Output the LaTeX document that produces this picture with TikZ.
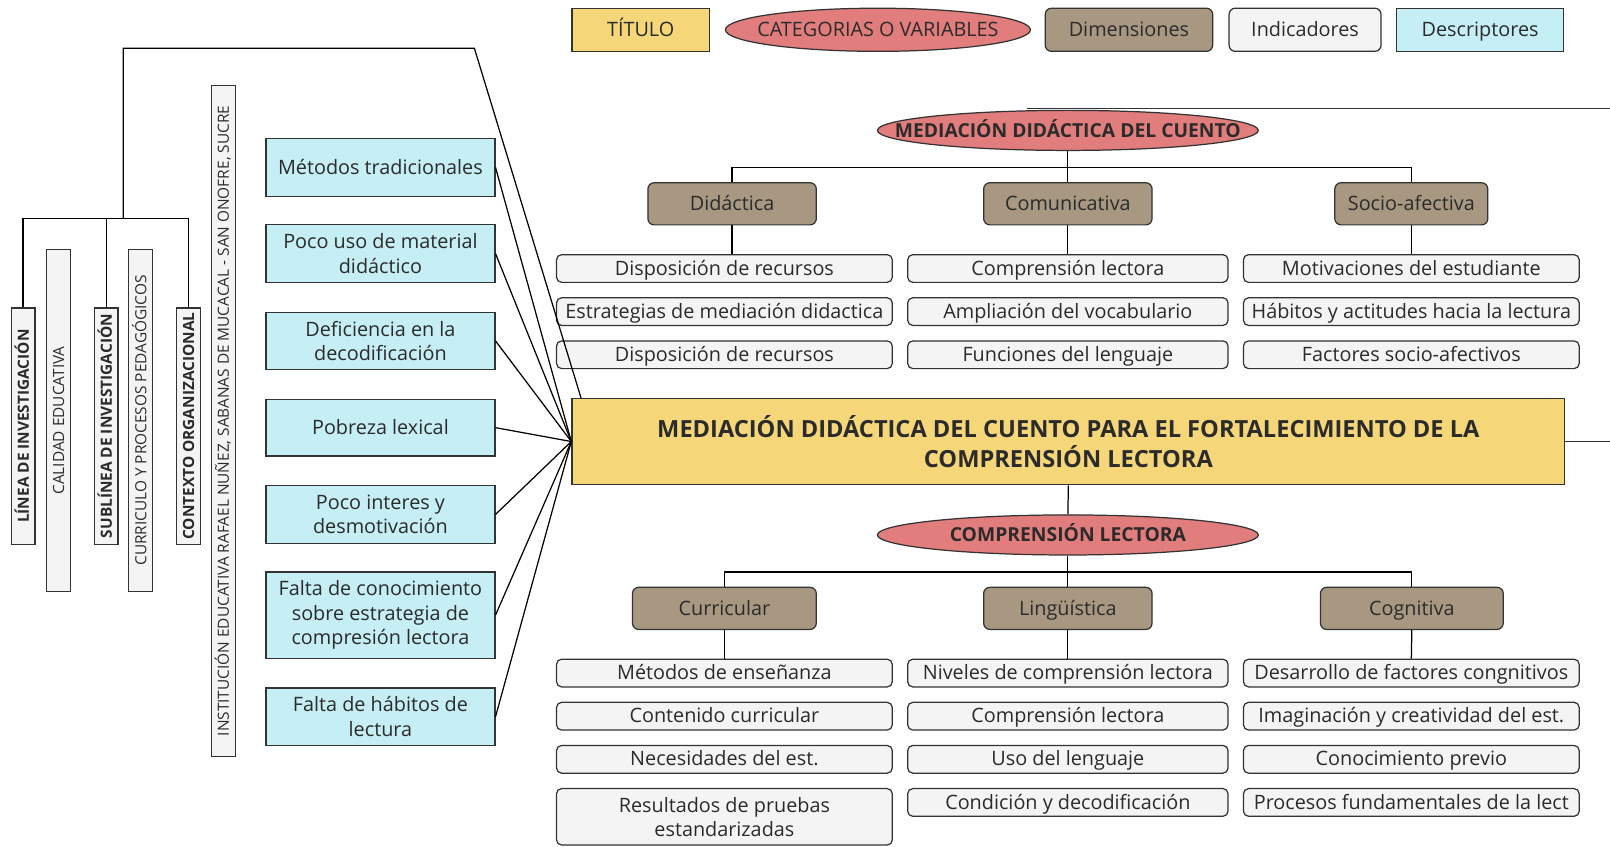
\documentclass[tikz,border=0pt]{standalone}
\usepackage{fontspec}
\setmainfont{Open Sans}
\usetikzlibrary{shapes.geometric,calc}
\definecolor{cyel}{HTML}{F5D679}
\definecolor{csal}{HTML}{E27D7D}
\definecolor{ctau}{HTML}{A89882}
\definecolor{cgry}{HTML}{F4F4F4}
\definecolor{ccya}{HTML}{C5EEF5}
\definecolor{cbrd}{HTML}{333333}
\definecolor{ctxt}{HTML}{2B2B2B}
\tikzset{
  every node/.style={text=ctxt},
  base/.style={draw=cbrd, line width=1.2pt, inner sep=0pt, align=center},
  oneline/.style={text height=14.5pt, text depth=1.5pt},
  legbox/.style={base, oneline, minimum height=42pt, font=\fontsize{19.3}{23}\selectfont},
  titlebox/.style={base, fill=cyel},
  catell/.style={base, ellipse, fill=csal},
  dimbox/.style={base, oneline, fill=ctau, rounded corners=6pt, minimum height=41pt, font=\fontsize{19.3}{23}\selectfont},
  indbox/.style={base, fill=cgry, rounded corners=5pt, minimum height=27pt, font=\fontsize{19.3}{23}\selectfont},
  ind1/.style={indbox, oneline},
  descbox/.style={base, fill=ccya, minimum width=223pt, font=\fontsize{19.3}{24}\selectfont},
  vbox/.style={base, fill=cgry, rotate=90, minimum height=23pt, text height=11pt, text depth=0pt, font=\fontsize{15}{18}\selectfont},
  conn/.style={draw=black, line width=1.2pt},
}
\begin{document}
\begin{tikzpicture}[x=1pt,y=-1pt]
\useasboundingbox[fill=white] (0,0) rectangle (1568,824);

% ---------- Legend ----------
\node[legbox, fill=cyel, minimum width=134pt] (lgT) at (624,29) {TÍTULO};
\node[legbox, catell, minimum width=297pt, minimum height=42pt] (lgC) at (855,29) {\makebox[0pt]{CATEGORIAS O VARIABLES}};
\node[legbox, fill=ctau, rounded corners=6pt, minimum width=163pt] (lgD) at (1099.5,29) {Dimensiones};
\node[legbox, fill=cgry, rounded corners=6pt, minimum width=148pt] (lgI) at (1271,29) {Indicadores};
\node[legbox, fill=ccya, minimum width=163pt] (lgS) at (1441.5,29) {Descriptores};

% ---------- Title ----------
\node[titlebox, minimum width=967pt, minimum height=84pt, font=\bfseries\fontsize{23}{30}\selectfont] (title) at (1040.5,430)
  {MEDIACIÓN DIDÁCTICA DEL CUENTO PARA EL FORTALECIMIENTO DE LA\\COMPRENSIÓN LECTORA};

% ---------- Category 1 ----------
\node[catell, oneline, minimum width=371pt, minimum height=39pt, font=\bfseries\fontsize{18.8}{22}\selectfont] (cat1) at (1040,127) {\makebox[0pt]{MEDIACIÓN DIDÁCTICA DEL CUENTO}};
\node[dimbox, minimum width=164pt] (d11) at (713,198.5) {Didáctica};
\node[dimbox, minimum width=164pt] (d12) at (1040,198.5) {Comunicativa};
\node[dimbox, minimum width=149pt] (d13) at (1374.5,198.5) {Socio-afectiva};

\node[ind1, minimum width=327pt] (i111) at (705.5,261.5) {Disposición de recursos};
\node[ind1, minimum width=327pt] (i112) at (705.5,303.5) {Estrategias de mediación didactica};
\node[ind1, minimum width=327pt] (i113) at (705.5,345.5) {Disposición de recursos};
\node[ind1, minimum width=312pt] (i121) at (1040,261.5) {Comprensión lectora};
\node[ind1, minimum width=312pt] (i122) at (1040,303.5) {Ampliación del vocabulario};
\node[ind1, minimum width=312pt] (i123) at (1040,345.5) {Funciones del lenguaje};
\node[ind1, minimum width=327pt] (i131) at (1374.5,261.5) {Motivaciones del estudiante};
\node[ind1, minimum width=327pt] (i132) at (1374.5,303.5) {Hábitos y actitudes hacia la lectura};
\node[ind1, minimum width=327pt] (i133) at (1374.5,345.5) {Factores socio-afectivos};

% ---------- Category 2 ----------
\node[catell, oneline, minimum width=371pt, minimum height=39pt, font=\bfseries\fontsize{18.8}{22}\selectfont] (cat2) at (1040,521) {\makebox[0pt]{COMPRENSIÓN LECTORA}};
\node[dimbox, minimum width=179pt] (d21) at (705.5,592.5) {Curricular};
\node[dimbox, minimum width=164pt] (d22) at (1040,592.5) {Lingüística};
\node[dimbox, minimum width=178pt] (d23) at (1375,592.5) {Cognitiva};

\node[ind1, minimum width=327pt] (i211) at (705.5,655.5) {Métodos de enseñanza};
\node[ind1, minimum width=327pt] (i212) at (705.5,697.5) {Contenido curricular};
\node[ind1, minimum width=327pt] (i213) at (705.5,739.5) {Necesidades del est.};
\node[indbox, minimum width=327pt, minimum height=55pt] (i214) at (705.5,795.5) {Resultados de pruebas\\estandarizadas};
\node[ind1, minimum width=312pt] (i221) at (1040,655.5) {Niveles de comprensión lectora};
\node[ind1, minimum width=312pt] (i222) at (1040,697.5) {Comprensión lectora};
\node[ind1, minimum width=312pt] (i223) at (1040,739.5) {Uso del lenguaje};
\node[ind1, minimum width=312pt] (i224) at (1040,781.5) {Condición y decodificación};
\node[ind1, minimum width=327pt] (i231) at (1374.5,655.5) {Desarrollo de factores congnitivos};
\node[ind1, minimum width=327pt] (i232) at (1374.5,697.5) {Imaginación y creatividad del est.};
\node[ind1, minimum width=327pt] (i233) at (1374.5,739.5) {Conocimiento previo};
\node[ind1, minimum width=327pt] (i234) at (1374.5,781.5) {Procesos fundamentales de la lect};

% ---------- Descriptors ----------
\node[descbox, oneline, minimum height=56pt] (s1) at (370.5,163) {Métodos tradicionales};
\node[descbox, minimum height=56pt] (s2) at (370.5,247) {Poco uso de material\\didáctico};
\node[descbox, minimum height=56pt] (s3) at (370.5,332) {Deficiencia en la\\decodificación};
\node[descbox, oneline, minimum height=55pt] (s4) at (370.5,416.5) {Pobreza lexical};
\node[descbox, minimum height=56pt] (s5) at (370.5,501) {Poco interes y\\desmotivación};
\node[descbox, minimum height=84pt] (s6) at (370.5,599) {Falta de conocimiento\\sobre estrategia de\\compresión lectora};
\node[descbox, minimum height=56pt] (s7) at (370.5,698) {Falta de hábitos de\\lectura};

% ---------- Vertical boxes ----------
\node[vbox, minimum width=230pt, font=\bfseries\fontsize{15}{18}\selectfont] (v1) at (22.5,415) {LÍNEA DE INVESTIGACIÓN};
\node[vbox, minimum width=333pt] (v2) at (57,409.5) {CALIDAD EDUCATIVA};
\node[vbox, minimum width=230pt, font=\bfseries\fontsize{15}{18}\selectfont] (v3) at (103.5,415) {SUBLÍNEA DE INVESTIGACIÓN};
\node[vbox, minimum width=333pt] (v4) at (137,409.5) {CURRICULO Y PROCESOS PEDAGÓGICOS};
\node[vbox, minimum width=230pt, font=\bfseries\fontsize{15}{18}\selectfont] (v5) at (183.5,415) {CONTEXTO ORGANIZACIONAL};
\node[vbox, minimum width=654pt] (v6) at (217.5,410) {INSTITUCIÓN EDUCATIVA RAFAEL NUÑEZ, SABANAS DE MUCACAL - SAN ONOFRE, SUCRE};

% ---------- Connectors ----------
\coordinate (tl) at (566,388);
\coordinate (jn) at (120,213);
\draw[conn] (tl) -- (462,47) -| (jn);
\draw[conn] (v1.east) |- (jn);
\draw[conn] (v3.east) |- (jn);
\draw[conn] (v5.east) |- (jn);

\foreach \s in {s1,s2,s3,s4,s5,s6,s7}{\draw[conn] (\s.east) -- (title.west);}

\coordinate (b1) at (1040,163);
\draw[conn] (cat1.south) -- (b1);
\draw[conn] (d11.north) |- (b1);
\draw[conn] (d13.north) |- (b1);
\draw[conn] (d12.north) -- (b1);
\draw[conn] (d11.south) -- (d11.south |- i111.north);
\draw[conn] (d12.south) -- (i121.north);
\draw[conn] (d13.south) -- (i131.north);

\draw[conn] (title.south) -- (cat2.north);
\coordinate (b2) at (1040,557);
\draw[conn] (cat2.south) -- (b2);
\draw[conn] (d21.north) |- (b2);
\draw[conn] (d23.north) |- (b2);
\draw[conn] (d22.north) -- (b2);
\draw[conn] (d21.south) -- (i211.north);
\draw[conn] (d22.south) -- (i221.north);
\draw[conn] (d23.south) -- (i231.north);

\coordinate (r1) at (1568,106);
\coordinate (r0) at (1000,106);
\draw[conn, draw=cbrd] (r0) -- (r1);
\coordinate (r2) at (1568,430);
\draw[conn, draw=cbrd] (title.east) -- (r2);
\end{tikzpicture}
\end{document}
